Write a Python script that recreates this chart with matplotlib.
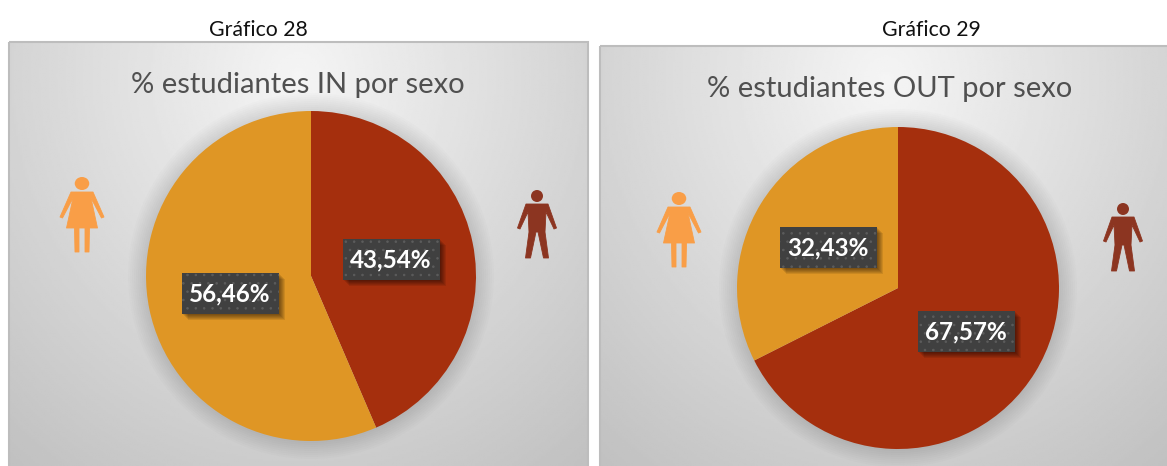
import numpy as np
import matplotlib
matplotlib.use("Agg")
import matplotlib.pyplot as plt
from matplotlib.patches import Rectangle, Polygon, Circle, Ellipse

plt.rcParams["font.family"] = ["Lato", "DejaVu Sans"]
plt.rcParams["hatch.linewidth"] = 0.6

W, H = 1167, 466

# data
captions = ["Gráfico 28", "Gráfico 29"]
titles = ["% estudiantes IN por sexo", "% estudiantes OUT por sexo"]
men_values = [43.54, 67.57]
women_values = [56.46, 32.43]
men_labels = ["43,54%", "67,57%"]
women_labels = ["56,46%", "32,43%"]

men_color = "#A52F0D"
women_color = "#DF9625"

fig = plt.figure(figsize=(W / 100, H / 100), dpi=100, facecolor="white")
bg = fig.add_axes([0, 0, 1, 1])
bg.set_xlim(0, W)
bg.set_ylim(H, 0)
bg.axis("off")


def panel(x0, x1, y0, y1):
    # radial grey gradient, lightest just under the top edge
    yy, xx = np.mgrid[0:1:200j, 0:1:300j]
    d = np.sqrt(((xx - 0.5) / 0.62) ** 2 + ((yy - 0.08) / 0.92) ** 2) / 1.28
    g = 0.96 - 0.205 * d
    bg.imshow(g, extent=[x0, x1, y1, y0], cmap="gray", vmin=0, vmax=1,
              aspect="auto", zorder=1)
    bg.add_patch(Rectangle((x0, y0), x1 - x0, y1 - y0 + 5, fill=False,
                           ec="#BDBDBD", lw=1.5, zorder=2))


def pie_chart(cx, cy, r, men, women, colors):
    # soft shadow around the pie
    for k in range(9):
        bg.add_patch(Circle((cx, cy), r + 18 - 2 * k, color="black", alpha=0.013,
                            lw=0, zorder=3))
    ax = fig.add_axes([(cx - r) / W, 1 - (cy + r) / H, 2 * r / W, 2 * r / H])
    ax.pie([men, women], colors=colors, startangle=90, counterclock=False,
           radius=1.0, wedgeprops={"linewidth": 0})
    ax.set_xlim(-1, 1)
    ax.set_ylim(-1, 1)
    ax.patch.set_alpha(0)
    ax.set_zorder(1)


def label_box(cx, cy, text):
    w, h = 97, 41
    x, y = cx - w / 2, cy - h / 2
    for k in range(6):
        over.add_patch(Rectangle((x + 1 + k, y + 1 + k), w, h, fc="black",
                                 alpha=0.09, lw=0))
    over.add_patch(Rectangle((x, y), w, h, fc="#404040", ec="#5C5C5C",
                             hatch="..", lw=0))
    over.text(cx, cy + 1, text, color="white", fontsize=17.5, fontweight="bold",
              ha="center", va="center")


def woman(cx, top, s, color):
    over.add_patch(Ellipse((cx, top + 6.5 * s), 14.5 * s, 13 * s, color=color, lw=0))
    body = np.array([[-11, 15], [11, 15], [22, 40], [19.5, 41], [9, 21], [15.5, 51],
                     [7.5, 51], [7, 75], [3, 75], [3, 51], [-3, 51], [-3, 75],
                     [-7, 75], [-7.5, 51], [-15.5, 51], [-9, 21], [-19.5, 41], [-22, 40]])
    over.add_patch(Polygon(body * s + [cx, top], closed=True, fc=color, ec=color,
                           lw=0.6, joinstyle="round"))


def man(cx, top, s, color):
    over.add_patch(Circle((cx, top + 6 * s), 6 * s, color=color, lw=0))
    body = np.array([[-11, 14], [11, 14], [19.5, 38], [17, 39], [9, 22], [8, 42],
                     [11.5, 68], [6.5, 68], [1, 42], [-1, 42], [-6.5, 68], [-11.5, 68],
                     [-8, 42], [-9, 22], [-17, 39], [-19.5, 38]])
    over.add_patch(Polygon(body * s + [cx, top], closed=True, fc=color, ec=color,
                           lw=0.6, joinstyle="round"))


panel(9, 588, 42, 466)
panel(600, 1172, 46, 466)

pie_chart(311, 276, 165, men_values[0], women_values[0], [men_color, women_color])
pie_chart(898, 288, 161, men_values[1], women_values[1], [men_color, women_color])

over = fig.add_axes([0, 0, 1, 1])
over.set_xlim(0, W)
over.set_ylim(H, 0)
over.axis("off")
over.patch.set_alpha(0)
over.set_zorder(5)

over.text(258, 30, captions[0], fontsize=15.3, color="#111111", ha="center", va="center")
over.text(931, 30, captions[1], fontsize=15.3, color="#111111", ha="center", va="center")
over.text(298, 85, titles[0], fontsize=21, color="#505050", ha="center", va="center")
over.text(890, 89, titles[1], fontsize=21, color="#505050", ha="center", va="center")

label_box(391, 259, men_labels[0])
label_box(230, 293, women_labels[0])
label_box(966, 331, men_labels[1])
label_box(828, 247, women_labels[1])

woman(82, 177, 1.0, "#F99E47")
woman(679, 192, 1.0, "#F99E47")
man(537, 190, 1.0, "#8C3521")
man(1123, 203, 1.0, "#8C3521")

fig.savefig("out.png", dpi=100)
